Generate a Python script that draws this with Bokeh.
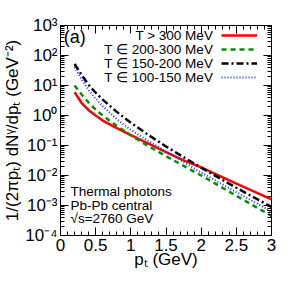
from bokeh.plotting import figure
from bokeh.models import (Legend, LegendItem, Label, LogAxis, LinearAxis, FixedTicker,
                          SingleIntervalTicker, CustomJSTickFormatter)
from bokeh.core.properties import value
from bokeh.embed import file_html
from bokeh.resources import INLINE

# ---- data ----
pt = [0.2, 0.3, 0.4, 0.5, 0.6, 0.8, 1.0, 1.25, 1.5, 1.75, 2.0, 2.5, 3.0]
t_gt_300 = [6.0, 2.6, 1.5, 1.0, 0.68, 0.38, 0.22, 0.115, 0.060, 0.032, 0.0186, 0.0054, 0.0016]
t_200_300 = [10.0, 5.0, 2.7, 1.58, 1.0, 0.45, 0.22, 0.095, 0.044, 0.021, 0.010, 0.0021, 0.00045]
t_150_200 = [52.0, 22.4, 10.5, 5.75, 3.39, 1.32, 0.575, 0.224, 0.093, 0.041, 0.0182, 0.0039, 0.00089]
t_100_150 = [41.0, 15.8, 7.1, 3.6, 2.04, 0.76, 0.33, 0.141, 0.063, 0.028, 0.0126, 0.0028, 0.00063]
series_labels = ["T > 300 MeV", "T \u2208 200-300 MeV", "T \u2208 150-200 MeV", "T \u2208 100-150 MeV"]
info_lines = ["Thermal photons", "Pb-Pb central", "\u221as=2760 GeV"]
panel_tag = "(a)"
y_decades = [-4, -3, -2, -1, 0, 1, 2, 3]

FONT = "Liberation Sans"

p = figure(frame_width=211, frame_height=210, x_range=(0, 3), y_range=(1e-4, 1e3),
           y_axis_type="log", output_backend="svg", toolbar_location=None,
           min_border_left=50, min_border_right=12, min_border_top=25,
           min_border_bottom=38)
p.background_fill_color = "white"
p.border_fill_color = "white"
p.outline_line_color = "black"
p.outline_line_width = 1
p.xgrid.visible = False
p.ygrid.visible = False

yticker = FixedTicker(ticks=[10.0 ** d for d in y_decades],
                      minor_ticks=[m * 10.0 ** d for d in y_decades[:-1] for m in range(2, 10)])
xticker = SingleIntervalTicker(interval=0.5, num_minor_ticks=5)

sup_fmt = CustomJSTickFormatter(code="""
const e = Math.round(Math.log10(tick));
const sup = {'-':'\u207b','0':'\u2070','1':'\u00b9','2':'\u00b2','3':'\u00b3','4':'\u2074'};
return '10' + String(e).split('').map(c => sup[c]).join('');
""")
blank_fmt = CustomJSTickFormatter(code="return '';")

def style_axis(ax):
    ax.axis_line_color = "black"
    ax.major_tick_in = 8
    ax.major_tick_out = 0
    ax.minor_tick_in = 4
    ax.minor_tick_out = 0
    ax.major_tick_line_color = "black"
    ax.minor_tick_line_color = "black"
    ax.major_label_text_font = FONT
    ax.major_label_text_font_size = "17px"
    ax.major_label_text_color = "black"
    ax.axis_label_text_font = FONT
    ax.axis_label_text_font_style = "normal"
    ax.axis_label_text_font_size = "17px"
    ax.axis_label_text_color = "black"

p.yaxis.ticker = yticker
p.yaxis.formatter = sup_fmt
p.xaxis.ticker = xticker
style_axis(p.xaxis[0])
style_axis(p.yaxis[0])
p.xaxis.major_label_standoff = 3
p.yaxis.major_label_standoff = 3
p.xaxis.axis_label = "p\u209c (GeV)"
p.xaxis.axis_label_standoff = -4
p.yaxis.axis_label = "1/(2\u03c0p\u209c) dN\u1d5e/dp\u209c (GeV\u207b\u00b2)"
p.yaxis.axis_label_standoff = 0

ax_r = LogAxis(ticker=yticker, formatter=blank_fmt)
ax_t = LinearAxis(ticker=xticker, formatter=blank_fmt)
for ax in (ax_r, ax_t):
    style_axis(ax)
    ax.major_label_text_font_size = "0px"
    ax.major_label_standoff = 0
p.add_layout(ax_r, "right")
p.add_layout(ax_t, "above")

r1 = p.line(pt, t_gt_300, line_color="#ff0000", line_width=2.5)
r2 = p.line(pt, t_200_300, line_color="#009000", line_width=2.5, line_dash="5 4")
r3 = p.line(pt, t_150_200, line_color="black", line_width=2.5, line_dash="7 3 2 3")
r4 = p.line(pt, t_100_150, line_color="#2233ff", line_width=2, line_dash="1 2")
renderers = [r1, r2, r3, r4]

legend = Legend(items=[LegendItem(label=value(""), renderers=[r]) for r in renderers],
                location="top_right", margin=0, padding=3, spacing=0,
                glyph_width=36, glyph_height=14, label_height=14, label_width=0,
                label_standoff=11, label_text_font_size="6px",
                background_fill_alpha=0, border_line_alpha=0)
p.add_layout(legend)

# legend texts, right aligned, left of the samples
leg_x = 2.17
leg_y = [10 ** 2.67, 10 ** 2.20, 10 ** 1.73, 10 ** 1.27]
for txt, yy in zip(series_labels, leg_y):
    p.add_layout(Label(x=leg_x, y=yy, text=txt, text_align="right", text_baseline="middle",
                       text_font=FONT, text_font_size="13.5px", text_color="black"))

info_y = [10 ** -2.54, 10 ** -2.99, 10 ** -3.44]
for txt, yy in zip(info_lines, info_y):
    p.add_layout(Label(x=0.142, y=yy, text=txt, text_align="left", text_baseline="middle",
                       text_font=FONT, text_font_size="13.5px", text_color="black"))

p.add_layout(Label(x=0.045, y=10 ** 2.62, text=panel_tag, text_align="left",
                   text_baseline="middle", text_font=FONT, text_font_size="18px",
                   text_color="black"))

open("out.html", "w").write(file_html(p, INLINE))
